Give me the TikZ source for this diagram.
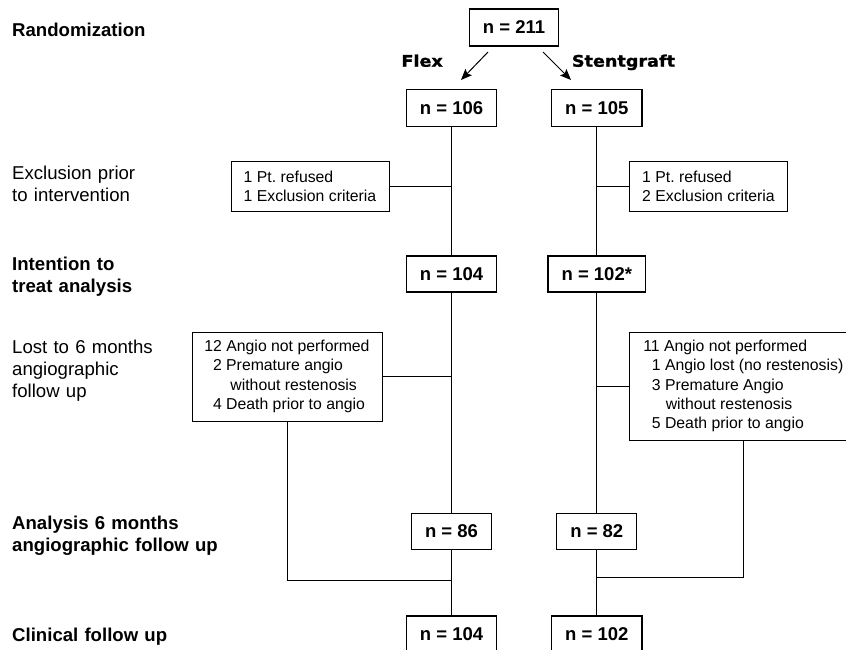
\documentclass[tikz,border=0pt]{standalone}
\usepackage{fontspec}
\setmainfont{Liberation Sans}
\newfontfamily\heavyfont[FakeStretch=1.1, FakeBold=1.2]{DejaVu Sans}
\usetikzlibrary{arrows.meta}
\frenchspacing

\begin{document}
\begin{tikzpicture}[x=1pt,y=-1pt]
	\tikzset{fcbox/.style={draw, line width=1.2pt, inner xsep=13.5pt, inner ysep=0pt,
				minimum height=37pt, font=\fontsize{18.5}{22}\selectfont\bfseries}}
	\tikzset{fcnote/.style={draw, line width=0.8pt, inner sep=0pt,
				align=left, font=\fontsize{15.8}{19.2}\selectfont}}
	\tikzset{fclabel/.style={anchor=base west, inner sep=0pt, text width=240pt,
				align=left, font=\fontsize{18.6}{22.2}\selectfont}}
	\tikzset{fcarm/.style={anchor=base, inner sep=0pt,
				font=\fontsize{16}{19}\selectfont\heavyfont\bfseries}}
	\tikzset{fcline/.style={line width=0.9pt}}
	\tikzset{fcarrow/.style={line width=1pt, -{Stealth[length=11pt, width=9pt, inset=2pt]}}}

	\useasboundingbox (0,0) rectangle (846,649);

	\node[fclabel] (lRand) at (12,36) {\bfseries Randomization};
	\node[fclabel] (lExcl) at (12,179.3) {Exclusion prior\\to intervention};
	\node[fclabel] (lItt) at (12,270.7) {\bfseries Intention to\\\bfseries treat analysis};
	\node[fclabel] (lLost) at (12,353.3) {Lost to 6 months\\angiographic\\follow up};
	\node[fclabel] (lAna) at (12,529) {\bfseries Analysis 6 months\\\bfseries angiographic follow up};
	\node[fclabel] (lClin) at (12,641) {\bfseries Clinical follow up};

	\node[fcbox] (n211) at (514,27.5) {n = 211};
	\node[fcarm, anchor=base east] (flex) at (443,66.7) {Flex};
	\node[fcarm, anchor=base west] (stent) at (571.7,66.7) {Stentgraft};

	\node[fcbox] (n106) at (451.5,108) {n = 106};
	\node[fcbox] (n105) at (596.8,108) {n = 105};

	\node[fcnote, minimum width=158pt, minimum height=50pt] (exclL) at (310,186)
		{1 Pt. refused\\1 Exclusion criteria};
	\node[fcnote, minimum width=158pt, minimum height=50pt] (exclR) at (708.5,186)
		{1 Pt. refused\\2 Exclusion criteria};

	\node[fcbox, minimum height=36pt] (n104) at (451.5,274) {n = 104};
	\node[fcbox, minimum height=36pt] (n102) at (596.8,274) {n = 102*};

	\node[fcnote, minimum width=190pt, minimum height=89pt] (lostL) at (287,376.5)
		{12 Angio not performed\\
		\hspace*{8.6pt}2 Premature angio\\
		\hspace*{26pt}without restenosis\\
		\hspace*{8.6pt}4 Death prior to angio};
	\node[fcnote, minimum width=228pt, minimum height=108pt] (lostR) at (743.3,386)
		{11 Angio not performed\\
		\hspace*{8.6pt}1 Angio lost (no restenosis)\\
		\hspace*{8.6pt}3 Premature Angio\\
		\hspace*{22.5pt}without restenosis\\
		\hspace*{8.6pt}5 Death prior to angio};

	\node[fcbox, minimum height=36pt] (n86) at (451.5,531.3) {n = 86};
	\node[fcbox, minimum height=36pt] (n82) at (596.8,531.3) {n = 82};

	\node[fcbox, minimum height=36pt] (n104b) at (451.5,634) {n = 104};
	\node[fcbox, minimum height=36pt] (n102b) at (596.8,634) {n = 102};

	\coordinate (flexA) at (488,52);
	\coordinate (flexB) at (461,80);
	\coordinate (stentA) at (543,52);
	\coordinate (stentB) at (571,80);
	\coordinate (joinL) at (451.5,580);
	\coordinate (joinR) at (596.8,577.7);

	\draw[fcarrow] (flexA) -- (flexB);
	\draw[fcarrow] (stentA) -- (stentB);

	\draw[fcline] (n106) -- (n104) -- (n86) -- (n104b);
	\draw[fcline] (n105) -- (n102) -- (n82) -- (n102b);

	\draw[fcline] (exclL) -- (exclL -| n106);
	\draw[fcline] (exclR) -- (exclR -| n105);
	\draw[fcline] (lostL) -- (lostL -| n104);
	\draw[fcline] (lostR) -- (lostR -| n102);
	\draw[fcline] (lostL) |- (joinL);
	\draw[fcline] (lostR) |- (joinR);
\end{tikzpicture}
\end{document}
